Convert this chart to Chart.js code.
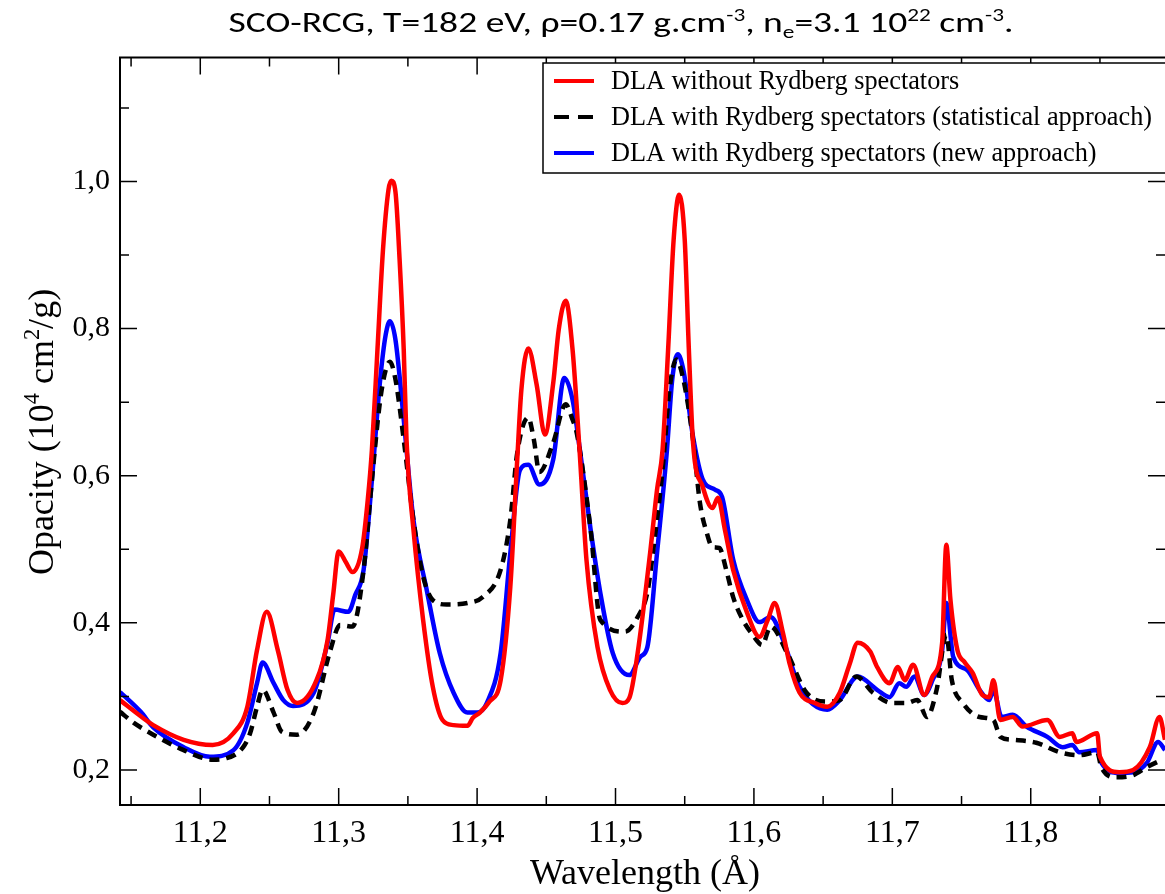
<!DOCTYPE html>
<html>
<head>
<meta charset="utf-8">
<script src="https://cdn.jsdelivr.net/npm/chart.js@4.4.0/dist/chart.umd.min.js"></script>
<style>
  body { margin: 0; background: #fff; }
  #wrap { width: 1165px; height: 894px; }
</style>
</head>
<body>
<div id="wrap"><canvas id="graph"></canvas></div>
<script>
// DLA without Rydberg spectators
const wlRed = [11.142,11.157,11.166,11.188,11.209,11.224,11.234,11.241,11.248,11.256,11.263,11.270,11.284,11.292,11.296,11.300,11.305,11.310,11.317,11.321,11.324,11.328,11.332,11.336,11.338,11.341,11.344,11.347,11.349,11.354,11.361,11.368,11.375,11.383,11.393,11.397,11.402,11.409,11.417,11.424,11.429,11.432,11.437,11.443,11.449,11.455,11.459,11.464,11.469,11.474,11.479,11.487,11.496,11.505,11.510,11.516,11.525,11.530,11.534,11.538,11.542,11.546,11.550,11.553,11.556,11.563,11.570,11.574,11.579,11.585,11.595,11.604,11.610,11.615,11.621,11.626,11.633,11.644,11.653,11.662,11.669,11.675,11.684,11.689,11.698,11.704,11.709,11.715,11.723,11.729,11.736,11.739,11.742,11.747,11.752,11.758,11.765,11.770,11.773,11.778,11.787,11.794,11.812,11.821,11.830,11.833,11.848,11.850,11.864,11.874,11.886,11.893,11.897];
const opRed = [0.295,0.273,0.261,0.241,0.234,0.250,0.286,0.363,0.415,0.363,0.309,0.291,0.322,0.377,0.438,0.497,0.483,0.469,0.502,0.567,0.635,0.771,0.907,0.989,1.001,0.986,0.894,0.771,0.649,0.527,0.404,0.313,0.268,0.261,0.260,0.271,0.278,0.293,0.322,0.449,0.622,0.717,0.773,0.724,0.656,0.726,0.799,0.838,0.771,0.635,0.486,0.367,0.309,0.291,0.298,0.359,0.495,0.581,0.635,0.771,0.921,0.982,0.921,0.771,0.645,0.585,0.556,0.570,0.527,0.472,0.414,0.381,0.404,0.427,0.386,0.343,0.305,0.291,0.286,0.305,0.343,0.373,0.361,0.340,0.318,0.340,0.322,0.343,0.302,0.327,0.373,0.506,0.431,0.363,0.347,0.332,0.302,0.299,0.322,0.268,0.272,0.259,0.268,0.245,0.250,0.238,0.250,0.218,0.197,0.200,0.231,0.272,0.241];

// DLA with Rydberg spectators (statistical approach)
const wlBlack = [11.142,11.152,11.166,11.188,11.209,11.219,11.231,11.236,11.241,11.245,11.253,11.259,11.270,11.282,11.294,11.301,11.310,11.318,11.324,11.330,11.334,11.337,11.341,11.347,11.354,11.361,11.368,11.378,11.393,11.404,11.417,11.424,11.429,11.437,11.441,11.445,11.455,11.464,11.469,11.472,11.482,11.489,11.507,11.516,11.523,11.527,11.534,11.539,11.544,11.549,11.556,11.561,11.566,11.570,11.575,11.580,11.585,11.592,11.599,11.606,11.612,11.624,11.638,11.653,11.662,11.674,11.686,11.700,11.710,11.718,11.725,11.732,11.739,11.743,11.751,11.763,11.773,11.778,11.787,11.804,11.821,11.835,11.848,11.851,11.862,11.874,11.884,11.895];
const opBlack = [0.279,0.264,0.248,0.227,0.214,0.216,0.231,0.250,0.286,0.309,0.278,0.252,0.248,0.278,0.363,0.397,0.395,0.472,0.594,0.703,0.744,0.755,0.731,0.649,0.540,0.463,0.431,0.425,0.427,0.435,0.472,0.540,0.631,0.679,0.649,0.605,0.645,0.697,0.676,0.658,0.527,0.404,0.388,0.408,0.441,0.495,0.608,0.717,0.758,0.731,0.649,0.563,0.522,0.503,0.502,0.472,0.435,0.404,0.384,0.370,0.395,0.359,0.305,0.293,0.295,0.327,0.305,0.291,0.291,0.295,0.272,0.309,0.384,0.322,0.291,0.272,0.268,0.245,0.241,0.237,0.224,0.220,0.224,0.204,0.190,0.193,0.204,0.214];

// DLA with Rydberg spectators (new approach)
const wlBlue = [11.142,11.157,11.166,11.188,11.207,11.224,11.234,11.241,11.245,11.253,11.260,11.267,11.282,11.292,11.297,11.307,11.312,11.318,11.324,11.330,11.334,11.337,11.341,11.347,11.354,11.364,11.373,11.383,11.393,11.400,11.407,11.417,11.424,11.431,11.437,11.445,11.455,11.463,11.469,11.474,11.482,11.489,11.498,11.510,11.518,11.523,11.530,11.537,11.541,11.545,11.549,11.556,11.563,11.572,11.577,11.585,11.595,11.604,11.612,11.621,11.633,11.653,11.662,11.675,11.689,11.698,11.705,11.710,11.716,11.723,11.729,11.736,11.739,11.744,11.754,11.763,11.770,11.773,11.779,11.787,11.797,11.812,11.823,11.830,11.835,11.848,11.851,11.864,11.874,11.884,11.892,11.897];
const opBlue = [0.306,0.279,0.258,0.231,0.218,0.227,0.264,0.318,0.346,0.318,0.295,0.287,0.305,0.373,0.418,0.415,0.438,0.472,0.594,0.731,0.792,0.810,0.785,0.676,0.540,0.441,0.359,0.305,0.278,0.278,0.291,0.359,0.495,0.608,0.615,0.588,0.622,0.733,0.703,0.639,0.527,0.441,0.359,0.329,0.354,0.367,0.495,0.631,0.731,0.765,0.744,0.653,0.595,0.581,0.571,0.486,0.431,0.401,0.408,0.377,0.313,0.282,0.295,0.327,0.309,0.299,0.318,0.313,0.327,0.302,0.322,0.363,0.427,0.354,0.336,0.309,0.295,0.309,0.272,0.275,0.259,0.245,0.231,0.234,0.224,0.227,0.210,0.196,0.197,0.210,0.238,0.227];

const seriesNames = [
  "DLA without Rydberg spectators",
  "DLA with Rydberg spectators (statistical approach)",
  "DLA with Rydberg spectators (new approach)"
];

const xTicks = [11.15,11.2,11.25,11.3,11.35,11.4,11.45,11.5,11.55,11.6,11.65,11.7,11.75,11.8,11.85];
const yTicks = [0.2,0.3,0.4,0.5,0.6,0.7,0.8,0.9,1.0,1.1];

const serif = '"Liberation Serif", "Times New Roman", serif';

function isMajorX(v) { return Math.round(v * 100) % 10 === 0; }
function isMajorY(v) { return Math.round(v * 10) % 2 === 0; }
function comma(v) { return v.toFixed(1).replace('.', ','); }
function toPoints(xs, ys) { return xs.map((x, i) => ({ x: x, y: ys[i] })); }

// text with superscripts / subscripts: parts = [[text, mode]], mode 1 sup, -1 sub
function drawRich(ctx, parts, x, y, size, family) {
  let widths = parts.map(p => {
    ctx.font = (p[1] ? size * 0.62 : size) + 'px ' + family;
    return ctx.measureText(p[0]).width;
  });
  let total = widths.reduce((a, b) => a + b, 0);
  let cx = x - total / 2;
  ctx.textAlign = 'left';
  ctx.textBaseline = 'alphabetic';
  parts.forEach((p, i) => {
    ctx.font = (p[1] ? size * 0.62 : size) + 'px ' + family;
    let dy = p[1] === 1 ? -size * 0.38 : (p[1] === -1 ? size * 0.2 : 0);
    ctx.fillText(p[0], cx, y + dy);
    cx += widths[i];
  });
  return total;
}

function measureRich(ctx, parts, size, family) {
  return parts.reduce((s, p) => {
    ctx.font = (p[1] ? size * 0.62 : size) + 'px ' + family;
    return s + ctx.measureText(p[0]).width;
  }, 0);
}

const decor = {
  id: 'decor',
  afterDatasetsDraw(chart) {
    const ctx = chart.ctx, a = chart.chartArea;
    const xs = chart.scales.x, ys = chart.scales.y;
    ctx.save();
    ctx.strokeStyle = '#000';
    ctx.fillStyle = '#000';

    // inward ticks on all four sides
    ctx.lineWidth = 1.5;
    ctx.beginPath();
    xTicks.forEach(v => {
      const p = xs.getPixelForValue(v), L = isMajorX(v) ? 17 : 9;
      ctx.moveTo(p, a.bottom); ctx.lineTo(p, a.bottom - L);
      ctx.moveTo(p, a.top); ctx.lineTo(p, a.top + L);
    });
    yTicks.forEach(v => {
      const p = ys.getPixelForValue(v), L = isMajorY(v) ? 17 : 9;
      ctx.moveTo(a.left, p); ctx.lineTo(a.left + L, p);
      ctx.moveTo(a.right, p); ctx.lineTo(a.right - L, p);
    });
    ctx.stroke();

    // frame (right side is cut off in the original)
    ctx.lineWidth = 2;
    ctx.beginPath();
    ctx.moveTo(a.right + 2, a.top);
    ctx.lineTo(a.left, a.top);
    ctx.lineTo(a.left, a.bottom);
    ctx.lineTo(a.right + 2, a.bottom);
    ctx.stroke();

    // legend box
    const lx = 543, ly = 63;
    ctx.fillStyle = '#fff';
    ctx.fillRect(lx, ly, 700, 110);
    ctx.lineWidth = 1.5;
    ctx.strokeStyle = '#000';
    ctx.strokeRect(lx, ly, 700, 110);
    chart.data.datasets.forEach((ds, i) => {
      const cy = 81 + i * 36;
      ctx.strokeStyle = ds.borderColor;
      ctx.lineWidth = 4;
      ctx.setLineDash(ds.borderDash ? [15, 9] : []);
      ctx.beginPath();
      ctx.moveTo(554, cy); ctx.lineTo(594, cy);
      ctx.stroke();
      ctx.setLineDash([]);
      ctx.fillStyle = '#000';
      ctx.font = '26.3px ' + serif;
      ctx.textAlign = 'left';
      ctx.textBaseline = 'middle';
      ctx.fillText(ds.label, 611, cy + 1);
    });

    // title
    ctx.fillStyle = '#000';
    const titleParts = [["SCO-RCG, T=182 eV, \u03c1=0.17 g.cm", 0], ["-3", 1], [", n", 0], ["e", -1],
      ["=3.1 10", 0], ["22", 1], [" cm", 0], ["-3", 1], [".", 0]];
    const tFont = 'Carlito, Calibri, "Open Sans", sans-serif';
    const tw = measureRich(ctx, titleParts, 29, tFont);
    ctx.save();
    ctx.translate(621, 32);
    ctx.scale(785 / tw, 1);
    drawRich(ctx, titleParts, 0, 0, 29, tFont);
    ctx.restore();

    // y axis title
    ctx.save();
    ctx.translate(53, 432);
    ctx.rotate(-Math.PI / 2);
    drawRich(ctx, [["Opacity (10", 0], ["4", 1], [" cm", 0], ["2", 1], ["/g)", 0]], 0, 0, 36, serif);
    ctx.restore();

    // x axis title
    drawRich(ctx, [["Wavelength (\u00c5)", 0]], 645, 884, 36, serif);
    ctx.restore();
  }
};

new Chart(document.getElementById('graph'), {
  type: 'line',
  data: {
    datasets: [
      {
        label: seriesNames[0],
        data: toPoints(wlRed, opRed),
        borderColor: '#ff0000',
        borderWidth: 4.5
      },
      {
        label: seriesNames[1],
        data: toPoints(wlBlack, opBlack),
        borderColor: '#000000',
        borderWidth: 4.5,
        borderDash: [10, 7]
      },
      {
        label: seriesNames[2],
        data: toPoints(wlBlue, opBlue),
        borderColor: '#0000ff',
        borderWidth: 4.5
      }
    ]
  },
  options: {
    responsive: true,
    maintainAspectRatio: false,
    animation: false,
    layout: { padding: { top: 57.5, right: 0, bottom: 0, left: 0 } },
    elements: {
      point: { radius: 0 },
      line: { cubicInterpolationMode: 'monotone', fill: false }
    },
    plugins: {
      legend: { display: false },
      title: { display: false },
      tooltip: { enabled: false }
    },
    scales: {
      x: {
        type: 'linear',
        min: 11.142,
        max: 11.897,
        grid: { display: false, drawTicks: false },
        border: { display: false },
        afterBuildTicks: s => { s.ticks = xTicks.map(v => ({ value: v })); },
        afterFit: s => { s.height = 89; },
        ticks: {
          autoSkip: false,
          maxRotation: 0,
          padding: 9,
          color: '#000',
          font: { family: serif, size: 32 },
          callback: v => isMajorX(v) ? comma(v) : ''
        }
      },
      y: {
        min: 0.1524,
        max: 1.1685,
        grid: { display: false, drawTicks: false },
        border: { display: false },
        afterBuildTicks: s => { s.ticks = yTicks.map(v => ({ value: v })); },
        afterFit: s => { s.width = 120; },
        ticks: {
          padding: 10,
          color: '#000',
          font: { family: serif, size: 30 },
          callback: v => isMajorY(v) ? comma(v) : ''
        }
      }
    }
  },
  plugins: [decor]
});
</script>
</body>
</html>
